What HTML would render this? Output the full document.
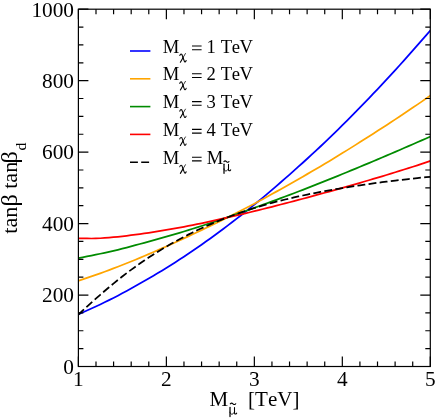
<!DOCTYPE html>
<html><head><meta charset="utf-8"><title>plot</title>
<style>
html,body{margin:0;padding:0;background:#fff;}
body{width:436px;height:419px;overflow:hidden;}
svg{display:block;will-change:transform;}
text{font-family:"Liberation Serif",serif;fill:#000;font-kerning:none;}
</style></head><body>
<svg width="436" height="419" viewBox="0 0 436 419">
<rect x="0" y="0" width="436" height="419" fill="#ffffff"/>
<defs><clipPath id="c"><rect x="78.4" y="9.2" width="351.90" height="357.30"/></clipPath></defs>
<g clip-path="url(#c)" fill="none" stroke-linejoin="round">
<path d="M78.20,314.36 L82.60,312.45 L87.01,310.50 L91.41,308.52 L95.81,306.49 L100.22,304.42 L104.62,302.31 L109.03,300.15 L113.43,297.93 L117.83,295.66 L122.24,293.33 L126.64,290.95 L131.05,288.52 L135.45,286.05 L139.85,283.55 L144.26,281.03 L148.66,278.48 L153.06,275.90 L157.47,273.29 L161.87,270.65 L166.28,267.97 L170.68,265.23 L175.08,262.44 L179.49,259.60 L183.89,256.71 L188.29,253.76 L192.70,250.78 L197.10,247.75 L201.51,244.69 L205.91,241.58 L210.31,238.43 L214.72,235.24 L219.12,232.00 L223.52,228.72 L227.93,225.40 L232.33,222.04 L236.74,218.65 L241.14,215.20 L245.54,211.71 L249.95,208.17 L254.35,204.59 L258.75,200.97 L263.16,197.30 L267.56,193.59 L271.97,189.85 L276.37,186.06 L280.77,182.25 L285.18,178.41 L289.58,174.54 L293.98,170.64 L298.39,166.72 L302.79,162.75 L307.19,158.75 L311.60,154.70 L316.00,150.62 L320.41,146.50 L324.81,142.33 L329.21,138.12 L333.62,133.86 L338.02,129.56 L342.43,125.21 L346.83,120.83 L351.23,116.40 L355.64,111.94 L360.04,107.44 L364.44,102.90 L368.85,98.33 L373.25,93.72 L377.66,89.07 L382.06,84.38 L386.46,79.65 L390.87,74.88 L395.27,70.07 L399.67,65.23 L404.08,60.34 L408.48,55.42 L412.89,50.45 L417.29,45.45 L421.69,40.41 L426.10,35.33 L430.50,30.22" stroke="#0000ff" stroke-width="1.75"/>
<path d="M78.20,280.91 L82.60,279.43 L87.01,277.93 L91.41,276.41 L95.81,274.88 L100.22,273.31 L104.62,271.72 L109.03,270.09 L113.43,268.43 L117.83,266.74 L122.24,265.01 L126.64,263.26 L131.05,261.49 L135.45,259.70 L139.85,257.88 L144.26,256.03 L148.66,254.16 L153.06,252.26 L157.47,250.34 L161.87,248.40 L166.28,246.43 L170.68,244.45 L175.08,242.44 L179.49,240.42 L183.89,238.39 L188.29,236.35 L192.70,234.29 L197.10,232.22 L201.51,230.14 L205.91,228.04 L210.31,225.91 L214.72,223.77 L219.12,221.60 L223.52,219.43 L227.93,217.23 L232.33,215.02 L236.74,212.79 L241.14,210.54 L245.54,208.27 L249.95,205.98 L254.35,203.67 L258.75,201.32 L263.16,198.94 L267.56,196.53 L271.97,194.09 L276.37,191.63 L280.77,189.16 L285.18,186.68 L289.58,184.19 L293.98,181.70 L298.39,179.19 L302.79,176.67 L307.19,174.13 L311.60,171.58 L316.00,169.00 L320.41,166.41 L324.81,163.79 L329.21,161.16 L333.62,158.49 L338.02,155.81 L342.43,153.10 L346.83,150.37 L351.23,147.63 L355.64,144.87 L360.04,142.10 L364.44,139.31 L368.85,136.51 L373.25,133.69 L377.66,130.86 L382.06,128.01 L386.46,125.15 L390.87,122.26 L395.27,119.36 L399.67,116.44 L404.08,113.51 L408.48,110.56 L412.89,107.59 L417.29,104.60 L421.69,101.60 L426.10,98.59 L430.50,95.55" stroke="#ffa500" stroke-width="1.75"/>
<path d="M78.20,258.14 L82.60,257.31 L87.01,256.45 L91.41,255.58 L95.81,254.68 L100.22,253.76 L104.62,252.82 L109.03,251.84 L113.43,250.83 L117.83,249.78 L122.24,248.69 L126.64,247.56 L131.05,246.40 L135.45,245.22 L139.85,244.03 L144.26,242.84 L148.66,241.63 L153.06,240.41 L157.47,239.19 L161.87,237.95 L166.28,236.69 L170.68,235.42 L175.08,234.12 L179.49,232.81 L183.89,231.47 L188.29,230.12 L192.70,228.75 L197.10,227.36 L201.51,225.96 L205.91,224.54 L210.31,223.10 L214.72,221.65 L219.12,220.18 L223.52,218.70 L227.93,217.19 L232.33,215.68 L236.74,214.14 L241.14,212.60 L245.54,211.04 L249.95,209.46 L254.35,207.88 L258.75,206.28 L263.16,204.68 L267.56,203.06 L271.97,201.44 L276.37,199.82 L280.77,198.18 L285.18,196.54 L289.58,194.88 L293.98,193.21 L298.39,191.53 L302.79,189.83 L307.19,188.12 L311.60,186.40 L316.00,184.66 L320.41,182.91 L324.81,181.15 L329.21,179.38 L333.62,177.60 L338.02,175.82 L342.43,174.02 L346.83,172.22 L351.23,170.41 L355.64,168.59 L360.04,166.76 L364.44,164.92 L368.85,163.08 L373.25,161.23 L377.66,159.37 L382.06,157.50 L386.46,155.62 L390.87,153.74 L395.27,151.85 L399.67,149.96 L404.08,148.05 L408.48,146.14 L412.89,144.23 L417.29,142.30 L421.69,140.38 L426.10,138.44 L430.50,136.50" stroke="#008b00" stroke-width="1.75"/>
<path d="M78.20,238.29 L82.60,238.38 L87.01,238.47 L91.41,238.50 L95.81,238.42 L100.22,238.25 L104.62,237.98 L109.03,237.62 L113.43,237.22 L117.83,236.78 L122.24,236.31 L126.64,235.79 L131.05,235.24 L135.45,234.65 L139.85,234.04 L144.26,233.41 L148.66,232.77 L153.06,232.10 L157.47,231.42 L161.87,230.72 L166.28,229.98 L170.68,229.23 L175.08,228.45 L179.49,227.65 L183.89,226.82 L188.29,225.97 L192.70,225.09 L197.10,224.20 L201.51,223.28 L205.91,222.35 L210.31,221.40 L214.72,220.43 L219.12,219.45 L223.52,218.46 L227.93,217.46 L232.33,216.44 L236.74,215.41 L241.14,214.37 L245.54,213.32 L249.95,212.25 L254.35,211.18 L258.75,210.10 L263.16,209.00 L267.56,207.90 L271.97,206.78 L276.37,205.65 L280.77,204.52 L285.18,203.38 L289.58,202.23 L293.98,201.07 L298.39,199.90 L302.79,198.73 L307.19,197.55 L311.60,196.36 L316.00,195.17 L320.41,193.96 L324.81,192.75 L329.21,191.54 L333.62,190.31 L338.02,189.08 L342.43,187.84 L346.83,186.59 L351.23,185.34 L355.64,184.08 L360.04,182.80 L364.44,181.52 L368.85,180.23 L373.25,178.93 L377.66,177.63 L382.06,176.31 L386.46,174.97 L390.87,173.63 L395.27,172.28 L399.67,170.91 L404.08,169.53 L408.48,168.14 L412.89,166.73 L417.29,165.30 L421.69,163.86 L426.10,162.41 L430.50,160.94" stroke="#ff0000" stroke-width="1.75"/>
<path d="M78.20,314.76 L82.60,310.60 L87.01,306.53 L91.41,302.57 L95.81,298.67 L100.22,294.82 L104.62,291.02 L109.03,287.28 L113.43,283.61 L117.83,280.01 L122.24,276.53 L126.64,273.15 L131.05,269.87 L135.45,266.67 L139.85,263.56 L144.26,260.53 L148.66,257.59 L153.06,254.74 L157.47,251.96 L161.87,249.26 L166.28,246.64 L170.68,244.10 L175.08,241.62 L179.49,239.22 L183.89,236.89 L188.29,234.63 L192.70,232.44 L197.10,230.32 L201.51,228.27 L205.91,226.28 L210.31,224.34 L214.72,222.47 L219.12,220.66 L223.52,218.90 L227.93,217.20 L232.33,215.54 L236.74,213.94 L241.14,212.39 L245.54,210.89 L249.95,209.43 L254.35,208.02 L258.75,206.67 L263.16,205.36 L267.56,204.10 L271.97,202.89 L276.37,201.72 L280.77,200.60 L285.18,199.51 L289.58,198.46 L293.98,197.44 L298.39,196.45 L302.79,195.49 L307.19,194.56 L311.60,193.66 L316.00,192.78 L320.41,191.93 L324.81,191.10 L329.21,190.30 L333.62,189.52 L338.02,188.77 L342.43,188.03 L346.83,187.31 L351.23,186.62 L355.64,185.94 L360.04,185.28 L364.44,184.64 L368.85,184.02 L373.25,183.41 L377.66,182.81 L382.06,182.23 L386.46,181.67 L390.87,181.12 L395.27,180.58 L399.67,180.06 L404.08,179.55 L408.48,179.05 L412.89,178.57 L417.29,178.09 L421.69,177.64 L426.10,177.19 L430.50,176.76" stroke="#000000" stroke-width="1.75" stroke-dasharray="7.9 3.3"/>
</g>
<rect x="78.4" y="9.2" width="351.90" height="357.30" fill="none" stroke="#000" stroke-width="1.2"/>
<path d="M78.40,366.5 v-10 M78.40,9.2 v10 M96.00,366.5 v-5 M96.00,9.2 v5 M113.59,366.5 v-5 M113.59,9.2 v5 M131.19,366.5 v-5 M131.19,9.2 v5 M148.78,366.5 v-5 M148.78,9.2 v5 M166.38,366.5 v-10 M166.38,9.2 v10 M183.97,366.5 v-5 M183.97,9.2 v5 M201.57,366.5 v-5 M201.57,9.2 v5 M219.16,366.5 v-5 M219.16,9.2 v5 M236.75,366.5 v-5 M236.75,9.2 v5 M254.35,366.5 v-10 M254.35,9.2 v10 M271.95,366.5 v-5 M271.95,9.2 v5 M289.54,366.5 v-5 M289.54,9.2 v5 M307.13,366.5 v-5 M307.13,9.2 v5 M324.73,366.5 v-5 M324.73,9.2 v5 M342.32,366.5 v-10 M342.32,9.2 v10 M359.92,366.5 v-5 M359.92,9.2 v5 M377.51,366.5 v-5 M377.51,9.2 v5 M395.11,366.5 v-5 M395.11,9.2 v5 M412.71,366.5 v-5 M412.71,9.2 v5 M430.30,366.5 v-10 M430.30,9.2 v10 M78.4,366.50 h10 M430.3,366.50 h-10 M78.4,348.63 h5 M430.3,348.63 h-5 M78.4,330.77 h5 M430.3,330.77 h-5 M78.4,312.90 h5 M430.3,312.90 h-5 M78.4,295.04 h10 M430.3,295.04 h-10 M78.4,277.18 h5 M430.3,277.18 h-5 M78.4,259.31 h5 M430.3,259.31 h-5 M78.4,241.44 h5 M430.3,241.44 h-5 M78.4,223.58 h10 M430.3,223.58 h-10 M78.4,205.72 h5 M430.3,205.72 h-5 M78.4,187.85 h5 M430.3,187.85 h-5 M78.4,169.99 h5 M430.3,169.99 h-5 M78.4,152.12 h10 M430.3,152.12 h-10 M78.4,134.25 h5 M430.3,134.25 h-5 M78.4,116.39 h5 M430.3,116.39 h-5 M78.4,98.52 h5 M430.3,98.52 h-5 M78.4,80.66 h10 M430.3,80.66 h-10 M78.4,62.80 h5 M430.3,62.80 h-5 M78.4,44.93 h5 M430.3,44.93 h-5 M78.4,27.06 h5 M430.3,27.06 h-5 M78.4,9.20 h10 M430.3,9.20 h-10" stroke="#000" stroke-width="1.2" fill="none"/>
<g font-size="21.3">
<text x="74" y="373.80" text-anchor="end">0</text>
<text x="74" y="302.34" text-anchor="end">200</text>
<text x="74" y="230.88" text-anchor="end">400</text>
<text x="74" y="159.42" text-anchor="end">600</text>
<text x="74" y="87.96" text-anchor="end">800</text>
<text x="74" y="16.50" text-anchor="end">1000</text>
<text x="78.40" y="385.6" text-anchor="middle">1</text>
<text x="166.38" y="385.6" text-anchor="middle">2</text>
<text x="254.35" y="385.6" text-anchor="middle">3</text>
<text x="342.32" y="385.6" text-anchor="middle">4</text>
<text x="430.30" y="385.6" text-anchor="middle">5</text>
</g>
<g font-size="21">
<text x="209.45" y="405.9">M</text>
<g transform="translate(229.30,407.10) scale(1.0)" fill="none" stroke="#000" stroke-linecap="round" stroke-linejoin="round"><path d="M0.7,0.3 L0.7,9.5" stroke-width="1.25"/><path d="M0.7,5.0 C0.8,7.9 4.0,7.9 5.1,4.9" stroke-width="0.9"/><path d="M5.2,0.3 L5.2,5.9 C5.2,7.2 6.4,7.4 7.4,6.0" stroke-width="1.05"/></g>
<path d="M230.10,404.33 C230.80,402.65 232.19,403.05 233.00,403.85 C233.81,404.65 235.20,405.05 235.90,403.37" fill="none" stroke="#000" stroke-width="1.15" stroke-linecap="butt"/>
<text x="248.1" y="405.9">[TeV]</text>
</g>
<g transform="translate(17.3,233.8) rotate(-90) scale(1.06,1)" font-size="21">
<text x="0" y="0">tan</text>
<text x="25.7" y="0" font-size="23">β</text>
<text x="42.45" y="0">tan</text>
<text x="66.35" y="0" font-size="23">β</text>
<text x="78.6" y="8.5" font-size="15">d</text>
</g>
<g font-size="18.6">
<path d="M130,51.00 H150.4" stroke="#0000ff" stroke-width="1.6" fill="none"/>
<text x="162.76" y="52.60">M</text>
<g transform="translate(179.50,53.35) scale(0.92)" fill="none" stroke="#000" stroke-linecap="round" stroke-linejoin="round"><path d="M0.35,2.4 C0.65,1.0 1.75,0.2 2.65,1.3 L5.15,8.3 C5.65,9.9 6.55,9.6 7.25,7.8" stroke-width="1.15"/><path d="M6.45,0.2 L3.8,4.7" stroke-width="0.85"/><path d="M3.8,4.7 L0.95,9.6" stroke-width="1.2"/></g>
<path d="M192.0,46.00 H201.6 M192.0,49.70 H201.6" stroke="#000" stroke-width="1.1" fill="none"/>
<text x="206.5" y="52.60">1</text>
<text x="220.7" y="52.60" letter-spacing="-0.35">TeV</text>
<path d="M130,78.80 H150.4" stroke="#ffa500" stroke-width="1.6" fill="none"/>
<text x="162.76" y="80.40">M</text>
<g transform="translate(179.50,81.15) scale(0.92)" fill="none" stroke="#000" stroke-linecap="round" stroke-linejoin="round"><path d="M0.35,2.4 C0.65,1.0 1.75,0.2 2.65,1.3 L5.15,8.3 C5.65,9.9 6.55,9.6 7.25,7.8" stroke-width="1.15"/><path d="M6.45,0.2 L3.8,4.7" stroke-width="0.85"/><path d="M3.8,4.7 L0.95,9.6" stroke-width="1.2"/></g>
<path d="M192.0,73.80 H201.6 M192.0,77.50 H201.6" stroke="#000" stroke-width="1.1" fill="none"/>
<text x="206.5" y="80.40">2</text>
<text x="220.7" y="80.40" letter-spacing="-0.35">TeV</text>
<path d="M130,106.60 H150.4" stroke="#008b00" stroke-width="1.6" fill="none"/>
<text x="162.76" y="108.20">M</text>
<g transform="translate(179.50,108.95) scale(0.92)" fill="none" stroke="#000" stroke-linecap="round" stroke-linejoin="round"><path d="M0.35,2.4 C0.65,1.0 1.75,0.2 2.65,1.3 L5.15,8.3 C5.65,9.9 6.55,9.6 7.25,7.8" stroke-width="1.15"/><path d="M6.45,0.2 L3.8,4.7" stroke-width="0.85"/><path d="M3.8,4.7 L0.95,9.6" stroke-width="1.2"/></g>
<path d="M192.0,101.60 H201.6 M192.0,105.30 H201.6" stroke="#000" stroke-width="1.1" fill="none"/>
<text x="206.5" y="108.20">3</text>
<text x="220.7" y="108.20" letter-spacing="-0.35">TeV</text>
<path d="M130,134.40 H150.4" stroke="#ff0000" stroke-width="1.6" fill="none"/>
<text x="162.76" y="136.00">M</text>
<g transform="translate(179.50,136.75) scale(0.92)" fill="none" stroke="#000" stroke-linecap="round" stroke-linejoin="round"><path d="M0.35,2.4 C0.65,1.0 1.75,0.2 2.65,1.3 L5.15,8.3 C5.65,9.9 6.55,9.6 7.25,7.8" stroke-width="1.15"/><path d="M6.45,0.2 L3.8,4.7" stroke-width="0.85"/><path d="M3.8,4.7 L0.95,9.6" stroke-width="1.2"/></g>
<path d="M192.0,129.40 H201.6 M192.0,133.10 H201.6" stroke="#000" stroke-width="1.1" fill="none"/>
<text x="206.5" y="136.00">4</text>
<text x="220.7" y="136.00" letter-spacing="-0.35">TeV</text>
<path d="M130,162.20 H150.4" stroke="#000000" stroke-width="1.6" fill="none" stroke-dasharray="7.9 3.3"/>
<text x="162.76" y="163.80">M</text>
<g transform="translate(179.50,164.55) scale(0.92)" fill="none" stroke="#000" stroke-linecap="round" stroke-linejoin="round"><path d="M0.35,2.4 C0.65,1.0 1.75,0.2 2.65,1.3 L5.15,8.3 C5.65,9.9 6.55,9.6 7.25,7.8" stroke-width="1.15"/><path d="M6.45,0.2 L3.8,4.7" stroke-width="0.85"/><path d="M3.8,4.7 L0.95,9.6" stroke-width="1.2"/></g>
<path d="M192.0,157.20 H201.6 M192.0,160.90 H201.6" stroke="#000" stroke-width="1.1" fill="none"/>
<text x="206.66" y="163.80">M</text>
<g transform="translate(223.30,163.85) scale(1.0)" fill="none" stroke="#000" stroke-linecap="round" stroke-linejoin="round"><path d="M0.7,0.3 L0.7,9.5" stroke-width="1.25"/><path d="M0.7,5.0 C0.8,7.9 4.0,7.9 5.1,4.9" stroke-width="0.9"/><path d="M5.2,0.3 L5.2,5.9 C5.2,7.2 6.4,7.4 7.4,6.0" stroke-width="1.05"/></g>
<path d="M223.70,162.08 C224.36,160.40 225.68,160.80 226.45,161.60 C227.22,162.40 228.54,162.80 229.20,161.12" fill="none" stroke="#000" stroke-width="1.1" stroke-linecap="butt"/>
</g>
</svg>
</body></html>
